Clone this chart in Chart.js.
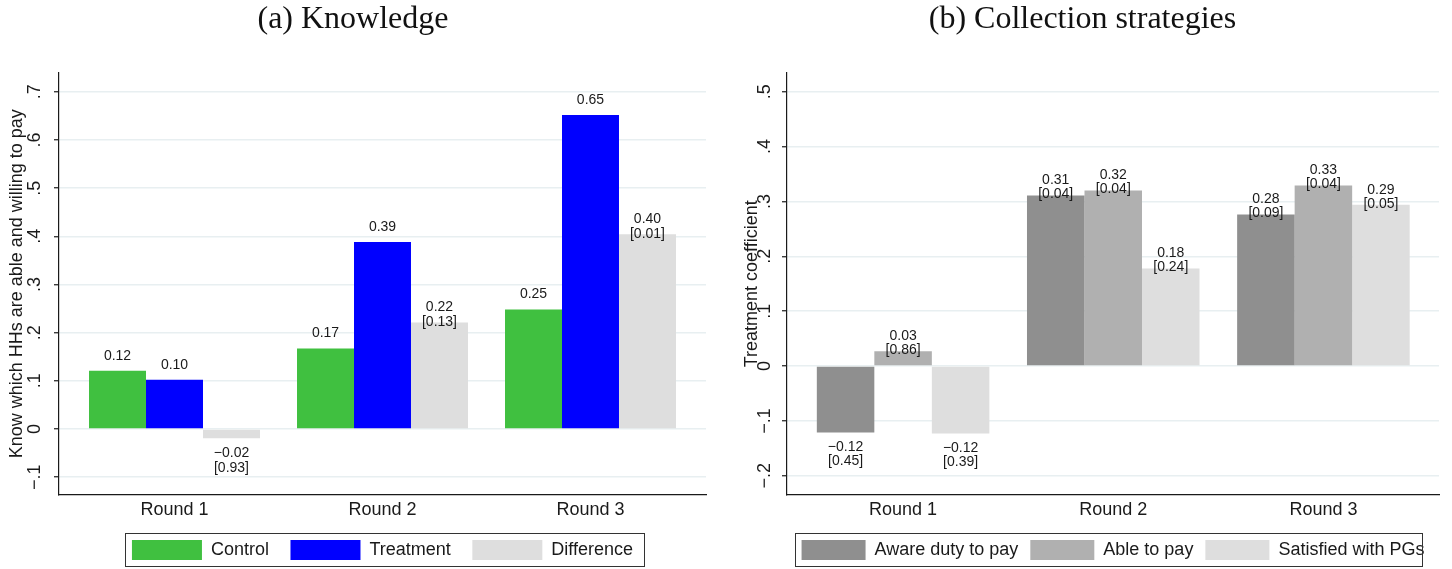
<!DOCTYPE html>
<html>
<head>
<meta charset="utf-8">
<script src="https://cdn.jsdelivr.net/npm/chart.js@4.4.0/dist/chart.umd.min.js"></script>
<style>
  html, body { margin: 0; padding: 0; background: #fff; }
  .wrap { display: flex; width: 1452px; height: 569px; }
  .panel { position: relative; width: 726px; height: 569px; }
</style>
</head>
<body>
<div class="wrap">
  <div class="panel"><canvas id="chartA"></canvas></div>
  <div class="panel"><canvas id="chartB"></canvas></div>
</div>
<script>
const rounds = ['Round 1', 'Round 2', 'Round 3'];
const roundPos = [1, 2, 3];

// (a) Knowledge
const knowControl = [0.121, 0.167, 0.248];
const knowTreatment = [0.102, 0.388, 0.652];
const knowDiff = [-0.019, 0.221, 0.404];
const knowDiffP = ['0.93', '0.13', '0.01'];
const knowTicks = [-0.1, 0, 0.1, 0.2, 0.3, 0.4, 0.5, 0.6, 0.7];

// (b) Collection strategies
const awareDuty = [-0.121, 0.311, 0.276];
const ablePay = [0.027, 0.320, 0.329];
const satisfiedPG = [-0.123, 0.178, 0.294];
const awareP = ['0.45', '0.04', '0.09'];
const ableP = ['0.86', '0.04', '0.04'];
const satisfiedP = ['0.39', '0.24', '0.05'];
const stratTicks = [-0.2, -0.1, 0, 0.1, 0.2, 0.3, 0.4, 0.5];

const SANS = "'Liberation Sans', Arial, Helvetica, sans-serif";
const SERIF = "'Liberation Serif', 'Times New Roman', serif";
const INK = '#1a1a1a';

function fmtTick(v) {
    if (Math.abs(v) < 1e-9) return '0';
    const s = Math.abs(v).toFixed(1).replace(/^0/, '');
    return (v < 0 ? '\u2212' : '') + s;
}

function fmtVal(v) {
    const s = Math.abs(v).toFixed(2);
    return (v < 0 ? '\u2212' : '') + s;
}

// value labels (and p-values in brackets) on the bars
const barLabels = {
    id: 'barLabels',
    afterDatasetsDraw(chart, args, opts) {
        const ctx = chart.ctx;
        ctx.save();
        ctx.font = '14px ' + SANS;
        ctx.fillStyle = INK;
        ctx.textAlign = 'center';
        ctx.textBaseline = 'middle';
        chart.data.datasets.forEach((ds, i) => {
            const meta = chart.getDatasetMeta(i);
            meta.data.forEach((el, j) => {
                const v = ds.data[j].y;
                const lines = [fmtVal(v)];
                if (ds.pvals) lines.push('[' + ds.pvals[j] + ']');
                const y0 = v >= 0 ? el.y - 15 : el.y + 15;
                lines.forEach((t, k) => ctx.fillText(t, el.x, y0 + k * opts.lineGap));
            });
        });
        ctx.restore();
    }
};

// frame around the legend
const legendFrame = {
    id: 'legendFrame',
    afterDraw(chart, args, opts) {
        const hb = chart.legend.legendHitBoxes;
        if (!hb || !hb.length) return;
        const first = hb[0], last = hb[hb.length - 1];
        const x0 = first.left - opts.padL;
        const x1 = last.left + last.width + opts.padR;
        const y0 = first.top - 7;
        const y1 = first.top + first.height + 6;
        const ctx = chart.ctx;
        ctx.save();
        ctx.strokeStyle = '#333';
        ctx.lineWidth = 1;
        ctx.strokeRect(Math.round(x0) + 0.5, Math.round(y0) + 0.5, Math.round(x1 - x0), Math.round(y1 - y0));
        ctx.restore();
    }
};

function points(vals) {
    return vals.map((v, i) => ({ x: roundPos[i], y: v }));
}

function makePanel(canvasId, p) {
    return new Chart(document.getElementById(canvasId), {
        type: 'bar',
        data: { datasets: p.datasets },
        options: {
            responsive: true,
            maintainAspectRatio: false,
            animation: false,
            devicePixelRatio: 1,
            categoryPercentage: p.catPct,
            barPercentage: 1,
            layout: { padding: { left: 0, right: p.padRight, top: 0, bottom: 0 } },
            scales: {
                x: {
                    type: 'linear',
                    offset: false,
                    min: p.xMin,
                    max: p.xMax,
                    afterBuildTicks: s => { s.ticks = roundPos.map(v => ({ value: v })); },
                    afterFit: s => { s.height = p.xHeight; },
                    grid: { display: false, drawTicks: false, offset: false },
                    border: { display: true, color: INK, width: 1.2 },
                    ticks: {
                        autoSkip: false, maxRotation: 0, padding: 5,
                        color: INK, font: { family: SANS, size: 18 },
                        callback: v => rounds[roundPos.indexOf(v)]
                    }
                },
                y: {
                    min: p.yMin,
                    max: p.yMax,
                    afterBuildTicks: s => { s.ticks = p.ticks.map(v => ({ value: v })); },
                    afterFit: s => { s.width = p.yWidth; },
                    grid: { color: '#e8eff1', lineWidth: 1.5, tickColor: INK, tickLength: 5, tickWidth: 1.2 },
                    border: { display: true, color: INK, width: 1.2 },
                    ticks: {
                        minRotation: 90, maxRotation: 90, crossAlign: 'center',
                        padding: p.tickPad, color: INK, font: { family: SANS, size: 18 },
                        callback: v => fmtTick(v)
                    },
                    title: {
                        display: true, text: p.yTitle, color: INK,
                        font: { family: SANS, size: 18 },
                        padding: { top: p.titlePad, bottom: 0 }
                    }
                }
            },
            plugins: {
                title: {
                    display: true, text: p.title, color: '#111',
                    font: { family: SERIF, size: 32, weight: 'normal' },
                    padding: { top: 0, bottom: 34.6 }
                },
                legend: {
                    position: 'bottom',
                    fullSize: false,
                    maxHeight: p.legendHeight,
                    labels: {
                        boxWidth: p.boxWidth, boxHeight: 20, padding: p.legendPad,
                        color: INK, font: { family: SANS, size: 18 }
                    }
                },
                tooltip: { enabled: false },
                barLabels: { lineGap: p.lineGap },
                legendFrame: { padL: 7, padR: p.frameRight }
            }
        },
        plugins: [barLabels, legendFrame]
    });
}

makePanel('chartA', {
    title: '(a) Knowledge',
    yTitle: 'Know which HHs are able and willing to pay',
    datasets: [
        { label: 'Control', data: points(knowControl), backgroundColor: '#40c040', borderWidth: 0, pvals: null },
        { label: 'Treatment', data: points(knowTreatment), backgroundColor: '#0000ff', borderWidth: 0, pvals: null },
        { label: 'Difference', data: points(knowDiff), backgroundColor: '#dedede', borderWidth: 0, pvals: knowDiffP }
    ],
    ticks: knowTicks,
    yMin: -0.136, yMax: 0.739,
    xMin: 0.4447, xMax: 3.5553,
    catPct: 0.822,
    padRight: 20, yWidth: 59, xHeight: 24,
    tickPad: 6, titlePad: 6,
    legendHeight: 50.5, legendPad: 21.5, boxWidth: 70, frameRight: 11,
    lineGap: 15
});

makePanel('chartB', {
    title: '(b) Collection strategies',
    yTitle: 'Treatment coefficient',
    datasets: [
        { label: 'Aware duty to pay', data: points(awareDuty), backgroundColor: '#8f8f8f', borderWidth: 0, pvals: awareP },
        { label: 'Able to pay', data: points(ablePay), backgroundColor: '#b0b0b0', borderWidth: 0, pvals: ableP },
        { label: 'Satisfied with PGs', data: points(satisfiedPG), backgroundColor: '#dedede', borderWidth: 0, pvals: satisfiedP }
    ],
    ticks: stratTicks,
    yMin: -0.234, yMax: 0.534,
    xMin: 0.4476, xMax: 3.55,
    catPct: 0.821,
    padRight: 13, yWidth: 61, xHeight: 33.5,
    tickPad: 4, titlePad: 15,
    legendHeight: 41, legendPad: 12, boxWidth: 64, frameRight: -3,
    lineGap: 14
});
</script>
</body>
</html>
